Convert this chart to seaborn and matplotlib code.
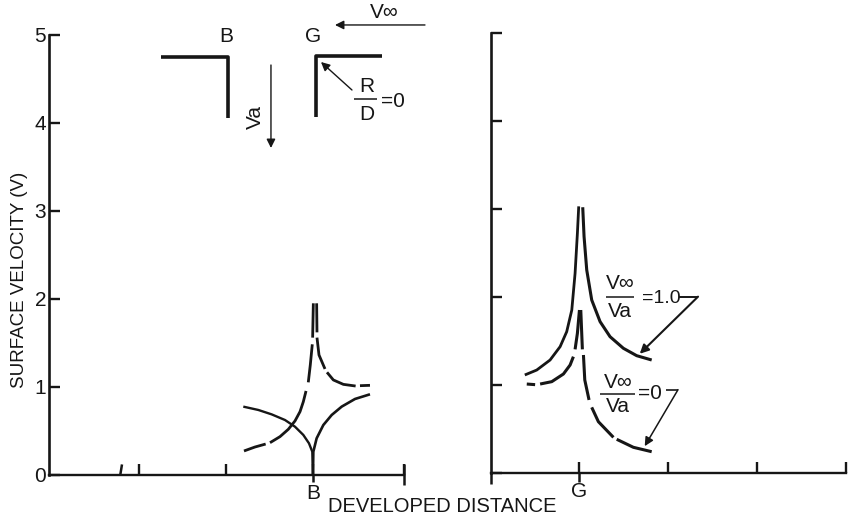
import matplotlib
matplotlib.use('Agg')
import matplotlib.pyplot as plt
import seaborn as sns

sns.set_theme(style='ticks')
plt.rcParams['font.family'] = ['Liberation Sans', 'DejaVu Sans']

INK = '#161616'

# left panel (corner B), x is distance from B
b_solid_left_x = [-0.801, -0.628, -0.475, -0.322, -0.207, -0.111, -0.046, -0.008, 0.0]
b_solid_left_y = [0.777, 0.739, 0.689, 0.625, 0.549, 0.455, 0.36, 0.265, 0.0]
b_solid_right_x = [0.0, 0.004, 0.042, 0.119, 0.215, 0.33, 0.483, 0.655]
b_solid_right_y = [0.0, 0.265, 0.417, 0.568, 0.682, 0.777, 0.864, 0.917]
b_dash_x = [[-0.793, -0.667, -0.544],
            [-0.494, -0.379, -0.284, -0.207, -0.149, -0.111, -0.08],
            [-0.054, -0.031, -0.008],
            [-0.004, 0.004],
            [0.042, 0.046],
            [0.046, 0.069, 0.138],
            [0.161, 0.234, 0.349, 0.49],
            [0.54, 0.655]]
b_dash_y = [[0.273, 0.318, 0.352],
            [0.367, 0.436, 0.519, 0.614, 0.72, 0.833, 0.955],
            [1.053, 1.25, 1.485],
            [1.561, 1.951],
            [1.951, 1.621],
            [1.561, 1.364, 1.205],
            [1.167, 1.08, 1.03, 1.011],
            [1.015, 1.019]]

# right panel (corner G), x is distance from G
g_solid_left_x = [-0.61, -0.476, -0.326, -0.213, -0.139, -0.082, -0.045, -0.019, -0.004]
g_solid_left_y = [1.114, 1.17, 1.284, 1.436, 1.606, 1.852, 2.269, 2.723, 3.03]
g_solid_right_x = [0.041, 0.056, 0.086, 0.142, 0.236, 0.348, 0.498, 0.648, 0.816]
g_solid_right_y = [3.02, 2.686, 2.307, 1.966, 1.72, 1.549, 1.417, 1.333, 1.284]
g_dash_x = [[-0.588, -0.494],
            [-0.438, -0.307, -0.176, -0.101, -0.064],
            [-0.045, -0.019, 0.004],
            [0.019, 0.037],
            [0.049, 0.064, 0.112],
            [0.142, 0.217, 0.386],
            [0.423, 0.61, 0.816]]
g_dash_y = [[1.011, 1.004],
            [1.011, 1.038, 1.125, 1.227, 1.322],
            [1.405, 1.587, 1.852],
            [1.852, 1.405],
            [1.341, 1.057, 0.83],
            [0.746, 0.583, 0.405],
            [0.383, 0.292, 0.242]]

# the little duct sketch over the left panel
corner_b_x = [-1.747, -0.977, -0.977]
corner_b_y = [4.75, 4.75, 4.057]
corner_g_x = [0.034, 0.034, 0.793]
corner_g_y = [4.068, 4.761, 4.761]

left_yticks = [0, 1, 2, 3, 4, 5]
left_xticks = [-2, -1, 0]
right_xticks = [0, 1, 2, 3]


def draw(ax, x, y, lw=2.0, **kw):
    sns.lineplot(x=x, y=y, ax=ax, sort=False, estimator=None, color=INK,
                 linewidth=lw, clip_on=False, solid_capstyle='butt', **kw)


def arrow(ax, start, end, lw=1.0):
    ax.annotate('', xy=end, xytext=start, annotation_clip=False,
                arrowprops=dict(arrowstyle='-|>', color=INK, lw=lw, shrinkA=0,
                                shrinkB=0, mutation_scale=13))


fig = plt.figure(figsize=(8.49, 5.22), dpi=100)
ax1 = fig.add_axes([49 / 849, 1 - 475 / 522, 355 / 849, 440 / 522])
ax2 = fig.add_axes([491 / 849, 1 - 473 / 522, 355 / 849, 440 / 522])

draw(ax1, b_solid_left_x, b_solid_left_y, 1.7)
draw(ax1, b_solid_right_x, b_solid_right_y, 1.9)
for xs, ys in zip(b_dash_x, b_dash_y):
    draw(ax1, xs, ys, 2.0)

draw(ax1, corner_b_x, corner_b_y, 2.6)
draw(ax1, corner_g_x, corner_g_y, 2.6)
arrow(ax1, (-0.483, 4.659), (-0.483, 3.716))
arrow(ax1, (1.287, 5.114), (0.253, 5.114))
arrow(ax1, (0.448, 4.375), (0.092, 4.693))

# odd scratch tick and the long end tick of the axis
draw(ax1, [-2.215, -2.195], [0.0, 0.12], 1.8)
draw(ax1, [1.046, 1.046], [-0.11, 0.12], 1.8)
draw(ax1, [0.0, 0.0], [-0.08, 0.0], 1.8)

draw(ax2, g_solid_left_x, g_solid_left_y, 2.0)
draw(ax2, g_solid_right_x, g_solid_right_y, 2.2)
for xs, ys in zip(g_dash_x, g_dash_y):
    draw(ax2, xs, ys, 2.2)

draw(ax2, [1.12, 1.337], [2.004, 2.004], 1.4)
arrow(ax2, (1.337, 2.004), (0.682, 1.355), 1.5)
draw(ax2, [0.981, 1.112], [0.947, 0.947], 1.2)
arrow(ax2, (1.112, 0.947), (0.738, 0.305), 1.1)
draw(ax2, [-0.99, -0.99], [-0.13, 0.0], 1.8)
draw(ax2, [0.0, 0.0], [-0.1, 0.0], 1.8)

ax1.set_xlim(-3.034, 1.046)
ax1.set_ylim(0, 5)
ax1.set_xticks(left_xticks + [1.046])
ax1.set_xticklabels(['', '', 'B', ''])
ax1.set_yticks(left_yticks)
ax2.set_xlim(-0.99, 3.0)
ax2.set_ylim(0, 5)
ax2.set_xticks(right_xticks)
ax2.set_xticklabels(['G', '', '', ''])
ax2.set_yticks(left_yticks)
ax2.set_yticklabels([])

for ax in (ax1, ax2):
    sns.despine(ax=ax)
    ax.patch.set_alpha(0)
    ax.spines['left'].set_linewidth(1.9)
    ax.spines['bottom'].set_linewidth(1.7)
    ax.spines['left'].set_color(INK)
    ax.spines['bottom'].set_color(INK)
    ax.tick_params(axis='both', direction='in', length=8, width=1.7, color=INK,
                   labelsize=15, labelcolor=INK, pad=2)
ax1.tick_params(axis='x', pad=6.5)
ax2.tick_params(axis='x', pad=6.5)
ax1.set_ylabel('SURFACE VELOCITY (V)', fontsize=13.5, color=INK)
ax1.yaxis.set_label_coords(-21 / 355, 0.443)

fig.text(442 / 849, 1 - 506 / 522, 'DEVELOPED DISTANCE', fontsize=14.5, color=INK,
         ha='center', va='center')

txt = dict(fontsize=15, color=INK, ha='center', va='center')
ax1.text(-1.0, 4.98, 'B', **txt)
ax1.text(0.0, 4.98, 'G', **txt)
ax1.text(0.82, 5.25, 'V∞', **txt)
ax1.text(-0.66, 4.07, 'Va', rotation=90, **txt)
ax1.text(0.62, 4.42, 'R', **txt)
draw(ax1, [0.47, 0.736], [4.27, 4.27], 1.1)
ax1.text(0.62, 4.1, 'D', **txt)
ax1.text(0.92, 4.24, '=0', **txt)

ax2.text(0.46, 2.15, 'V∞', **txt)
draw(ax2, [0.3, 0.615], [2.0, 2.0], 1.1)
ax2.text(0.46, 1.84, 'Va', **txt)
ax2.text(0.92, 1.98, '=1.0', fontsize=14, color=INK, ha='center', va='center')
ax2.text(0.44, 1.03, 'V∞', **txt)
draw(ax2, [0.235, 0.625], [0.9, 0.9], 1.1)
ax2.text(0.44, 0.75, 'Va', **txt)
ax2.text(0.8, 0.9, '=0', **txt)

fig.savefig('out.png', dpi=100)
